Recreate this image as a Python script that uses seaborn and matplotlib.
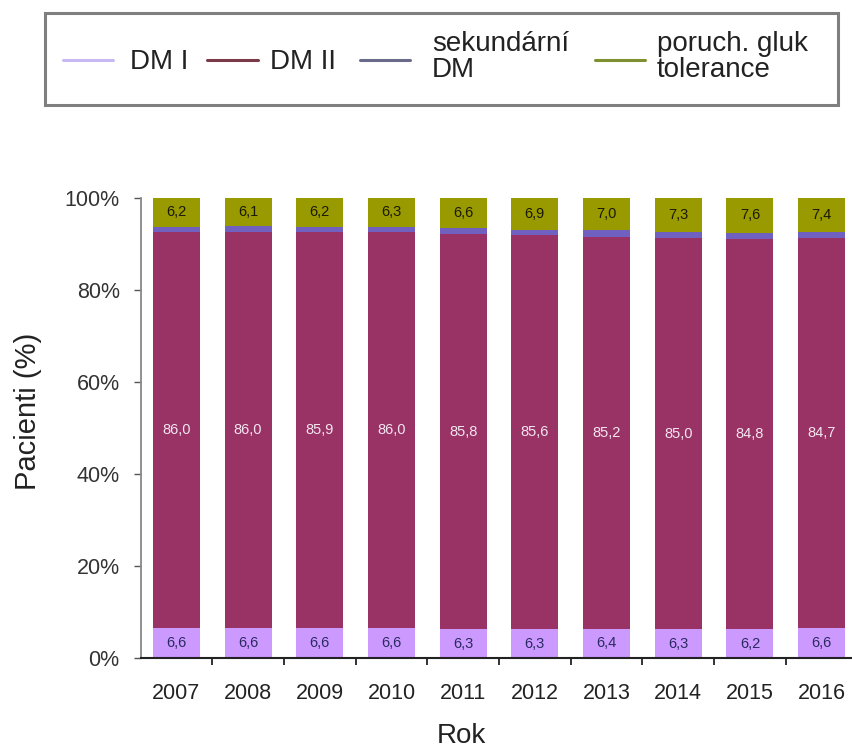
import numpy as np
import pandas as pd
import matplotlib
matplotlib.use("Agg")
import matplotlib.pyplot as plt
import seaborn as sns
from matplotlib.lines import Line2D
from matplotlib.patches import Rectangle

# ---- data ----
years = ['2007', '2008', '2009', '2010', '2011', '2012', '2013', '2014', '2015', '2016']
dm1 = [6.6, 6.6, 6.6, 6.6, 6.3, 6.3, 6.4, 6.3, 6.2, 6.6]
dm2 = [86.0, 86.0, 85.9, 86.0, 85.8, 85.6, 85.2, 85.0, 84.8, 84.7]
sek = [1.2, 1.3, 1.3, 1.1, 1.3, 1.2, 1.4, 1.4, 1.4, 1.3]
pgt = [6.2, 6.1, 6.2, 6.3, 6.6, 6.9, 7.0, 7.3, 7.6, 7.4]
series_names = ['DM I', 'DM II', 'sekundární\nDM', 'poruch. gluk\ntolerance']
ytick_vals = [0, 20, 40, 60, 80, 100]
ytick_labels = ['0%', '20%', '40%', '60%', '80%', '100%']

# ---- style ----
sns.set_theme(style="ticks")
plt.rcParams['font.family'] = ['Liberation Sans', 'DejaVu Sans']

colors = ['#CC99FF', '#993366', '#7060C0', '#999900']
legend_colors = ['#C8B8F4', '#7A3A48', '#6A6A8A', '#7F9030']
label_colors = ['#2A2A60', '#F4E6F0', None, '#1A1A00']
label_flags = [True, True, False, True]

W, H = 853, 749
fig = plt.figure(figsize=(W / 100, H / 100), dpi=100)
ax_left, ax_right, ax_top, ax_bot = 140.5, 857.5, 198, 658
ax = fig.add_axes([ax_left / W, (H - ax_bot) / H, (ax_right - ax_left) / W, (ax_bot - ax_top) / H])

df = pd.DataFrame({'Rok': years, 'DM I': dm1, 'DM II': dm2, 'sek': sek, 'pgt': pgt})
layers = np.array([dm1, dm2, sek, pgt])
cum = np.cumsum(layers, axis=0)

for i in reversed(range(4)):
    sns.barplot(x=df['Rok'], y=cum[i], order=years, color=colors[i], saturation=1,
                width=0.655, edgecolor='none', linewidth=0, ax=ax)

# segment labels
for i in range(4):
    if not label_flags[i]:
        continue
    base = cum[i] - layers[i]
    for j, v in enumerate(layers[i]):
        ax.text(j, base[j] + v / 2, f"{v:.1f}".replace('.', ','), ha='center', va='center',
                fontsize=10.5, color=label_colors[i])

ax.set_xlim(-0.5, 9.5)
ax.set_ylim(0, 100)
ax.set_yticks(ytick_vals)
ax.set_yticklabels(ytick_labels)
ax.set_xticks(range(len(years)))
ax.set_xticklabels(years)
ax.set_xticks(np.arange(0.5, len(years) - 1, 1), minor=True)

ax.tick_params(axis='x', which='major', length=0, pad=18, labelsize=15.5, labelcolor='#222222')
ax.tick_params(axis='x', which='minor', bottom=True, length=5, width=1.3, color='#222222', direction='out')
ax.tick_params(axis='y', which='major', left=True, length=5, width=1.0, color='#555555', pad=10,
               labelsize=15.5, labelcolor='#333333')

for s in ['top', 'right']:
    ax.spines[s].set_visible(False)
ax.spines['left'].set_color('#888888')
ax.spines['left'].set_linewidth(1.3)
ax.spines['bottom'].set_color('#222222')
ax.spines['bottom'].set_linewidth(1.5)

ax.set_xlabel('Rok', fontsize=20, color='#222222')
ax.set_ylabel('Pacienti (%)', fontsize=21, color='#222222')
ax.xaxis.set_label_coords(0.447, -0.142)
ax.yaxis.set_label_coords(-0.137, 0.537)

# ---- legend (framed box at top) ----
fig.add_artist(Rectangle((45 / W, (H - 105) / H), 793 / W, 92 / H, transform=fig.transFigure,
                         fill=False, edgecolor='#7F7F7F', linewidth=2.2))
handle_x = [(63, 113), (207, 258), (360, 410), (595, 645)]
label_x = [130, 270, 432, 657]
label_y = [62, 62, 57, 57]
for i in range(4):
    x0, x1 = handle_x[i]
    fig.add_artist(Line2D([x0 / W, x1 / W], [(H - 60) / H, (H - 60) / H], transform=fig.transFigure,
                          color=legend_colors[i], linewidth=2.2))
    fig.text(label_x[i] / W, (H - label_y[i]) / H, series_names[i], ha='left', va='center',
             fontsize=20, linespacing=1.0, color='#222222')

fig.savefig('out.png', dpi=100)
